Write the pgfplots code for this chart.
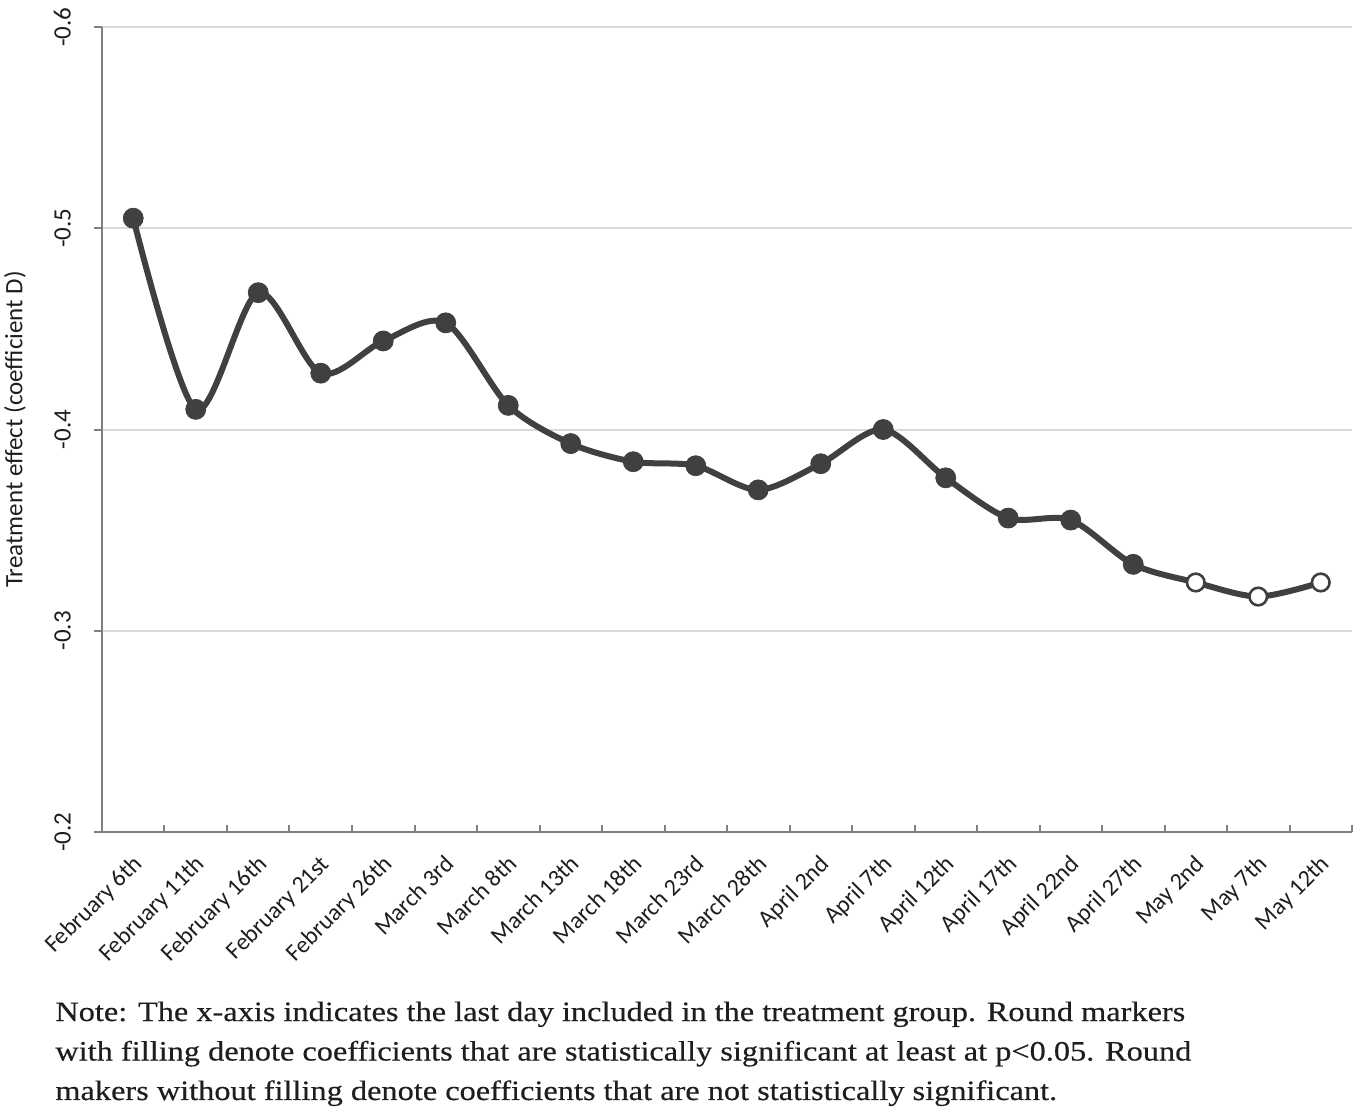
\documentclass[border=0pt]{standalone}
\usepackage{pgfplots}
\pgfplotsset{compat=1.18}
\usepackage{fontspec}
\setmainfont{Carlito}
\newfontfamily\notefont{Liberation Serif}[FakeStretch=1.155, FakeBold=0.4]
\definecolor{linegray}{HTML}{404040}
\definecolor{gridgray}{HTML}{D9D9D9}
\definecolor{axisgray}{HTML}{808080}
\definecolor{textgray}{HTML}{1E1E1E}
\begin{document}
\begin{tikzpicture}
\begin{axis}[
  at={(51pt,-416pt)}, anchor=south west,
  scale only axis, width=625pt, height=402.5pt,
  xmin=-0.5, xmax=19.5, ymin=-0.6, ymax=-0.2, y dir=reverse,
  axis x line=bottom, axis y line=left,
  axis line style={-, draw=axisgray, line width=1.1pt},
  every outer x axis line/.append style={-},
  every outer y axis line/.append style={-},
  ymajorgrids, grid style={gridgray, line width=1pt},
  ytick={-0.6,-0.5,-0.4,-0.3,-0.2},
  yticklabels={-0.6,-0.5,-0.4,-0.3,-0.2},
  yticklabel style={font=\fontsize{12.5pt}{15pt}\selectfont, text=textgray, xshift=-8pt, rotate=90, anchor=south},
  tick align=outside, major tick length=4pt,
  ytick style={draw=axisgray, line width=1pt},
  xtick={0,...,19},
  xticklabels={February 6th,February 11th,February 16th,February 21st,February 26th,March 3rd,March 8th,March 13th,March 18th,March 23rd,March 28th,April 2nd,April 7th,April 12th,April 17th,April 22nd,April 27th,May 2nd,May 7th,May 12th},
  xtick style={draw=none},
  xticklabel style={font=\fontsize{12pt}{14pt}\selectfont, text=textgray, inner sep=0pt, xshift=-1pt, yshift=-6.5pt, rotate=45, anchor=north east},
  extra x ticks={-0.5,0.5,1.5,2.5,3.5,4.5,5.5,6.5,7.5,8.5,9.5,10.5,11.5,12.5,13.5,14.5,15.5,16.5,17.5,18.5,19.5},
  extra x tick labels={},
  extra x tick style={tick align=inside, major tick length=3.5pt, xtick style={draw=axisgray, line width=1pt}},
  ylabel={Treatment effect (coefficient D)},
  every axis y label/.style={at={(axis description cs:-0.0696,0.5)}, rotate=90, anchor=center, font=\fontsize{12.5pt}{14pt}\selectfont, text=textgray},
  clip=false,
]
\addplot[linegray, line width=3pt, smooth, tension=0.5, no marks] coordinates {
(0,-0.505) (1,-0.410) (2,-0.468) (3,-0.428) (4,-0.444) (5,-0.453) (6,-0.412) (7,-0.393) (8,-0.384) (9,-0.382) (10,-0.370) (11,-0.383) (12,-0.400) (13,-0.376) (14,-0.356) (15,-0.355) (16,-0.333) (17,-0.324) (18,-0.317) (19,-0.324)
};
\addplot[only marks, mark=*, mark size=5pt, mark options={fill=linegray, draw=linegray}] coordinates {
(0,-0.505) (1,-0.410) (2,-0.468) (3,-0.428) (4,-0.444) (5,-0.453) (6,-0.412) (7,-0.393) (8,-0.384) (9,-0.382) (10,-0.370) (11,-0.383) (12,-0.400) (13,-0.376) (14,-0.356) (15,-0.355) (16,-0.333)
};
\addplot[only marks, mark=*, mark size=4.4pt, mark options={fill=white, draw=linegray, line width=1.3pt}] coordinates {
(17,-0.324) (18,-0.317) (19,-0.324)
};
\end{axis}
\node[anchor=base west, align=left, inner sep=0pt, text=textgray, font=\notefont\fontsize{14pt}{19.75pt}\selectfont] at (27.5pt,-550pt) {Note: The x-axis indicates the last day included in the treatment group. Round markers\\with filling denote coefficients that are statistically significant at least at p<0.05. Round\\makers without filling denote coefficients that are not statistically significant.};
\pgfresetboundingbox
\path[use as bounding box] (0,0) rectangle (678.5pt,-558.5pt);
\end{tikzpicture}
\end{document}
